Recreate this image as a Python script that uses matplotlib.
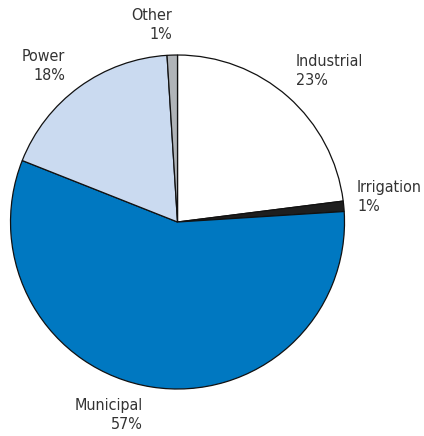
import matplotlib.pyplot as plt

# water use by sector, share in percent
sectors = ['Industrial', 'Irrigation', 'Municipal', 'Power', 'Other']
shares = [23, 1, 57, 18, 1]
colors = ['#ffffff', '#1e1e1e', '#0078c1', '#cadaf0', '#b0b4b8']

plt.rcParams['font.family'] = ['DejaVu Sans']
plt.rcParams['font.stretch'] = 'condensed'

fig = plt.figure(figsize=(4.24, 4.36), dpi=100)
ax = fig.add_axes([0, 0, 1, 1])

ax.pie(shares, colors=colors, startangle=90, counterclock=False,
       radius=1.0, center=(0, 0),
       wedgeprops=dict(edgecolor='#111111', linewidth=0.9))

# label positions (x, y, horizontal alignment)
label_pos = [(0.71, 1.006, 'left'),
             (1.075, 0.251, 'left'),
             (-0.207, -1.054, 'right'),
             (-0.674, 1.036, 'right'),
             (-0.033, 1.281, 'right')]

for name, val, (x, y, ha) in zip(sectors, shares, label_pos):
    ax.text(x, y, f'{name}\n{val}%', ha=ha, va='top', multialignment=ha,
            fontsize=11.5, color='#333333', linespacing=1.35,
            fontstretch='condensed')

ax.set_xlim(-1.063, 1.476)
ax.set_ylim(-1.281, 1.329)
ax.set_aspect('equal')
ax.axis('off')

fig.savefig('out.png', dpi=100)
